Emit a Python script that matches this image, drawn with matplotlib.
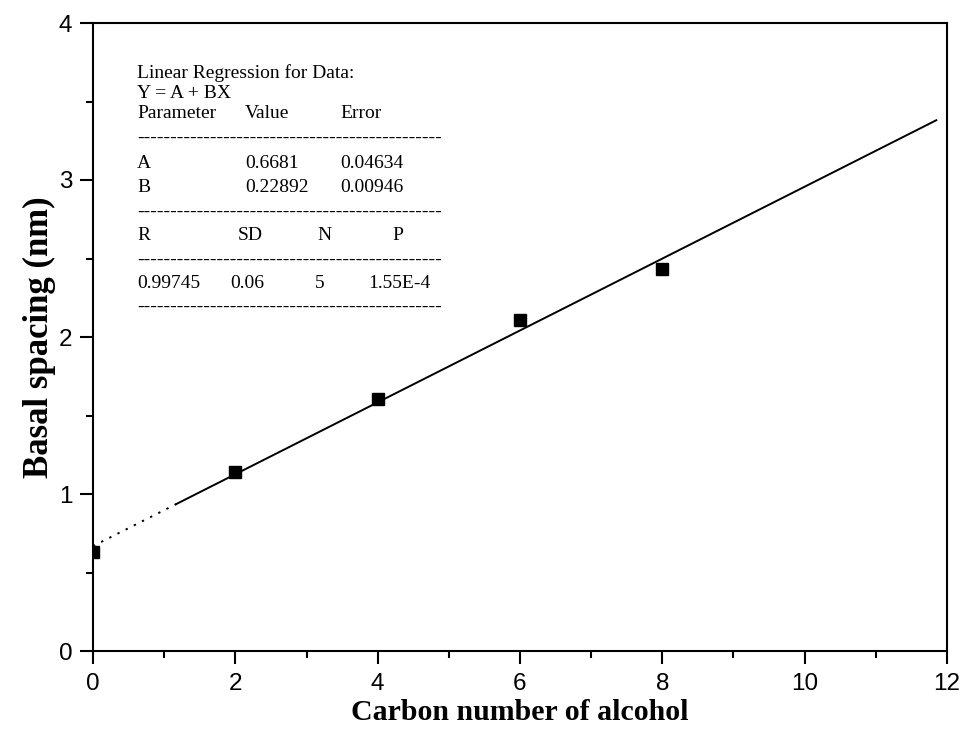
import matplotlib
matplotlib.use("Agg")
import matplotlib.pyplot as plt
import numpy as np
from matplotlib.ticker import MultipleLocator

# Data
carbon_number = [0, 2, 4, 6, 8]
basal_spacing = [0.63, 1.138, 1.605, 2.106, 2.433]

# Regression parameters (from the annotation)
fit_A = 0.6681
fit_B = 0.22892
fit_solid_range = [1.17, 11.85]
fit_dotted_range = [0.0, 1.17]

fig = plt.figure(figsize=(9.65, 7.34), dpi=100)
ax = fig.add_axes([93/965, 1-651/734, (947-93)/965, (651-23)/734])

xs = np.array(fit_solid_range)
ax.plot(xs, fit_A + fit_B*xs, color='black', lw=1.4, zorder=2)
xd = np.array(fit_dotted_range)
ax.plot(xd, fit_A + fit_B*xd, color='black', lw=1.4, ls=(0, (1.2, 3.5)), zorder=2)
ax.plot(carbon_number, basal_spacing, 's', color='black', ms=8.8, zorder=3, clip_on=True)

ax.set_xlim(0, 12)
ax.set_ylim(0, 4)
ax.xaxis.set_major_locator(MultipleLocator(2))
ax.xaxis.set_minor_locator(MultipleLocator(1))
ax.yaxis.set_major_locator(MultipleLocator(1))
ax.yaxis.set_minor_locator(MultipleLocator(0.5))
for s in ax.spines.values():
    s.set_linewidth(1.5)
ax.tick_params(which='major', direction='out', length=9.5, width=1.5,
               labelsize=17.5)
ax.tick_params(axis='x', which='major', pad=6)
ax.tick_params(axis='y', which='major', pad=5.5)
ax.tick_params(which='minor', direction='out', length=5, width=1.5)
for lab in ax.get_xticklabels() + ax.get_yticklabels():
    lab.set_family('Liberation Sans')

ax.set_xlabel('Carbon number of alcohol', family='Liberation Serif',
              fontweight='bold', fontsize=21.5, labelpad=3)
ax.set_ylabel('Basal spacing (nm)', family='Liberation Serif',
              fontweight='bold', fontsize=25, labelpad=2)

# annotation table
def px(x, y):
    return (x/965, 1-y/734)

tk = dict(family='Liberation Serif', fontsize=14, va='center', ha='left',
          transform=fig.transFigure)
dash = '-'*46
fig.text(*px(137, 73), 'Linear Regression for Data:', **tk)
fig.text(*px(137, 93), 'Y = A + BX', **tk)
fig.text(*px(137, 113), 'Parameter', **tk)
fig.text(*px(245, 113), 'Value', **tk)
fig.text(*px(340, 113), 'Error', **tk)
for y in (138, 212, 260, 307):
    fig.text(*px(137, y), dash, **tk)
fig.text(*px(137, 163), 'A', **tk)
fig.text(*px(245, 163), '0.6681', **tk)
fig.text(*px(340, 163), '0.04634', **tk)
fig.text(*px(137, 187), 'B', **tk)
fig.text(*px(245, 187), '0.22892', **tk)
fig.text(*px(340, 187), '0.00946', **tk)
fig.text(*px(137, 236), 'R', **tk)
fig.text(*px(238, 236), 'SD', **tk)
fig.text(*px(317, 236), 'N', **tk)
fig.text(*px(392, 236), 'P', **tk)
fig.text(*px(137, 283), '0.99745', **tk)
fig.text(*px(230, 283), '0.06', **tk)
fig.text(*px(315, 283), '5', **tk)
fig.text(*px(368, 283), '1.55E-4', **tk)

fig.savefig('out.png', dpi=100)
